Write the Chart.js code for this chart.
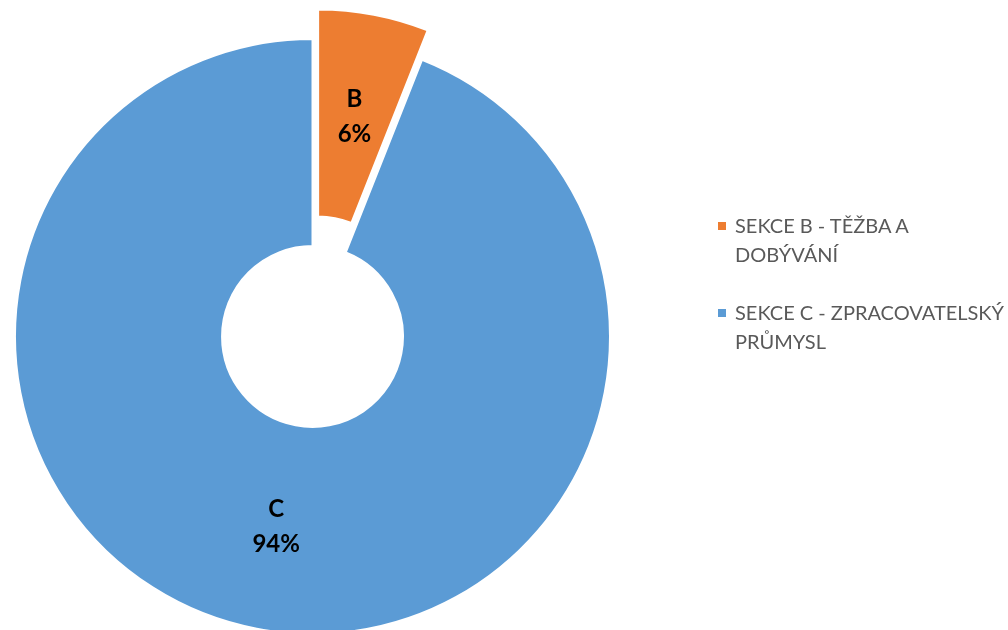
<!DOCTYPE html>
<html>
<head>
<meta charset="utf-8">
<script src="https://cdn.jsdelivr.net/npm/chart.js@4/dist/chart.umd.min.js"></script>
<style>
  html, body { margin: 0; padding: 0; background: #fff; }
  #wrap { position: relative; width: 1008px; height: 630px; overflow: hidden; }
  #c { position: absolute; left: 0; top: 0; }
  .lg { position: absolute; left: 735px; font-family: Lato, "Open Sans", sans-serif; font-size: 20px; line-height: 29px; color: #595959; white-space: nowrap; }
  .mk { position: absolute; left: 718px; width: 8px; height: 8px; }
</style>
</head>
<body>
<div id="wrap">
  <canvas id="c" width="1008" height="630"></canvas>
</div>
<script>
const categories = ['B', 'C'];
const values = [6, 94];
const legendLabels = [['SEKCE B - TĚŽBA A', 'DOBÝVÁNÍ'], ['SEKCE C - ZPRACOVATELSKÝ', 'PRŮMYSL']];
const colors = ['#ED7D31', '#5B9BD5'];
const explode = [30, 0];

const total = values.reduce((a, b) => a + b, 0);

const explodePlugin = {
  id: 'explode',
  afterDatasetsUpdate(chart) {
    const meta = chart.getDatasetMeta(0);
    meta.data.forEach((arc, i) => {
      const d = explode[i];
      if (!d) return;
      const h = (arc.startAngle + arc.endAngle) / 2;
      arc.x += Math.cos(h) * d;
      arc.y += Math.sin(h) * d;
    });
  }
};

const labelPlugin = {
  id: 'sliceLabels',
  afterDatasetsDraw(chart) {
    const ctx = chart.ctx;
    const meta = chart.getDatasetMeta(0);
    ctx.save();
    ctx.fillStyle = '#000';
    ctx.font = 'bold 24px Lato, "Open Sans", sans-serif';
    ctx.textAlign = 'center';
    ctx.textBaseline = 'middle';
    meta.data.forEach((arc, i) => {
      const h = (arc.startAngle + arc.endAngle) / 2;
      const r = (arc.innerRadius + arc.outerRadius) / 2;
      const cx = arc.x + Math.cos(h) * r;
      const cy = arc.y + Math.sin(h) * r;
      ctx.fillText(categories[i], cx, cy - 17.5);
      ctx.fillText(Math.round(values[i] / total * 100) + '%', cx, cy + 17.5);
    });
    ctx.restore();
  }
};

new Chart(document.getElementById('c'), {
  type: 'doughnut',
  data: {
    labels: categories,
    datasets: [{
      data: values,
      backgroundColor: colors,
      borderColor: '#ffffff',
      borderWidth: 2
    }]
  },
  options: {
    responsive: false,
    animation: false,
    radius: 297.5,
    cutout: '30.4%',
    layout: { padding: { left: 0, right: 383, top: 43, bottom: 0 } },
    plugins: { legend: { display: false }, tooltip: { enabled: false } },
    events: []
  },
  plugins: [explodePlugin, labelPlugin]
});

// HTML legend built from the label arrays
const wrap = document.getElementById('wrap');
const entryTops = [210.5, 298];
legendLabels.forEach((lines, i) => {
  const mk = document.createElement('div');
  mk.className = 'mk';
  mk.style.background = colors[i];
  mk.style.top = (entryTops[i] + 11) + 'px';
  wrap.appendChild(mk);
  const d = document.createElement('div');
  d.className = 'lg';
  d.style.top = entryTops[i] + 'px';
  lines.forEach((ln, j) => {
    if (j) d.appendChild(document.createElement('br'));
    d.appendChild(document.createTextNode(ln));
  });
  wrap.appendChild(d);
});
</script>
</body>
</html>
